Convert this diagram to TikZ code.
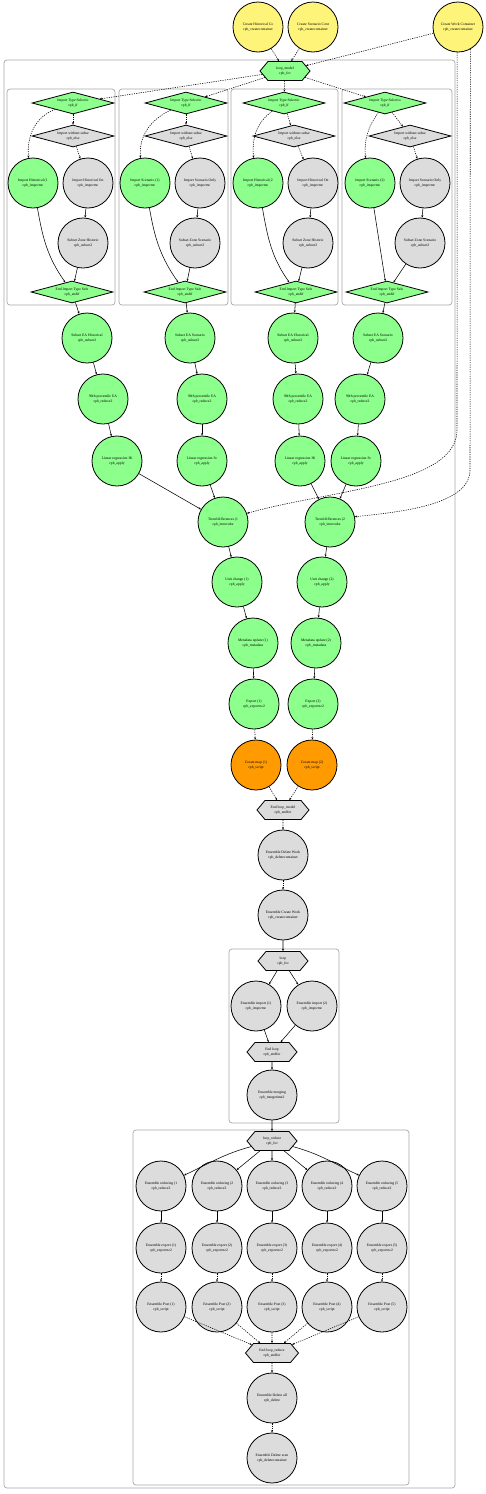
\documentclass[tikz,border=0pt]{standalone}
\usepackage{fontspec}
\setmainfont{Liberation Serif}
\usetikzlibrary{shapes.geometric,shapes.symbols,arrows.meta}
\definecolor{cgreen}{HTML}{8CFF8C}
\definecolor{cyellow}{HTML}{FFF47A}
\definecolor{corange}{HTML}{FF9A00}
\definecolor{cgray}{HTML}{DCDCDC}
\definecolor{cbox}{HTML}{A8A8A8}
\newcommand\gvfont{\fontsize{3.7}{4.5}\selectfont}
\begin{document}
\begin{tikzpicture}[x=1pt,y=1pt,
 gvbase/.style={draw=black,line width=0.8pt,font=\gvfont,align=center,inner sep=0pt,text=black},
 crc/.style={gvbase,circle,minimum size=50pt},
 fgreen/.style={fill=cgreen}, fyellow/.style={fill=cyellow}, forange/.style={fill=corange}, fgray/.style={fill=cgray},
 dia/.style={gvbase,diamond,aspect=3.7,minimum width=82pt,minimum height=22pt},
 hexa/.style={gvbase,signal,signal to=east and west,signal pointer angle=100,minimum width=50pt,minimum height=19pt},
 clus/.style={draw=cbox,line width=0.7pt,rounded corners=3pt},
 sol/.style={line width=0.55pt,-{Stealth[length=2.4pt,width=2pt]}},
 dsh/.style={sol,dash pattern=on 1.2pt off 1.1pt}]
\fill[white] (0,0) rectangle (485,-1494);
\useasboundingbox (0,0) rectangle (485,-1494);
% clusters
\draw[clus] (4,-60) rectangle (455,-1488);
\draw[clus] (7,-89) rectangle (115,-305);
\draw[clus] (119,-89) rectangle (228,-305);
\draw[clus] (231,-89) rectangle (338,-305);
\draw[clus] (342,-89) rectangle (452,-305);
\draw[clus] (229,-949) rectangle (339,-1123);
\draw[clus] (133,-1130) rectangle (409,-1485);
% top
\node[crc,fyellow] (ch) at (258,-27) {Create Historical Co\\cpb\_createcontainer};
\node[crc,fyellow] (cs) at (313,-27) {Create Scenario Cont\\cpb\_createcontainer};
\node[crc,fyellow] (cw) at (458,-27) {Create Work Container\\cpb\_createcontainer};
\node[hexa,fgreen] (lm) at (285,-71) {loop\_model\\cpb\_for};
% cluster 1
\node[dia,fgreen] (d1) at (73,-103) {Import Type Selectio\\cpb\_if};
\node[dia,fgray] (e1) at (73,-136) {Import without subse\\cpb\_else};
\node[crc,fgreen] (a1) at (33,-183) {Import Historical (1\\cpb\_importnc};
\node[crc,fgray] (b1) at (88,-183) {Import Historical On\\cpb\_importnc};
\node[crc,fgray] (z1) at (83,-243) {Subset Zone Historic\\cpb\_subset2};
\node[dia,fgreen] (f1) at (72,-292) {End Import Type Sele\\cpb\_endif};
% cluster 2
\node[dia,fgreen] (d2) at (186,-103) {Import Type Selectio\\cpb\_if};
\node[dia,fgray] (e2) at (186,-136) {Import without subse\\cpb\_else};
\node[crc,fgreen] (a2) at (145,-183) {Import Scenario (1)\\cpb\_importnc};
\node[crc,fgray] (b2) at (200,-183) {Import Scenario Only\\cpb\_importnc};
\node[crc,fgray] (z2) at (195,-243) {Subset Zone Scenario\\cpb\_subset2};
\node[dia,fgreen] (f2) at (185,-292) {End Import Type Sele\\cpb\_endif};
% cluster 3
\node[dia,fgreen] (d3) at (284,-103) {Import Type Selectio\\cpb\_if};
\node[dia,fgray] (e3) at (294,-136) {Import without subse\\cpb\_else};
\node[crc,fgreen] (a3) at (258,-183) {Import Historical (2\\cpb\_importnc};
\node[crc,fgray] (b3) at (313,-183) {Import Historical On\\cpb\_importnc};
\node[crc,fgray] (z3) at (308,-243) {Subset Zone Historic\\cpb\_subset2};
\node[dia,fgreen] (f3) at (296,-292) {End Import Type Sele\\cpb\_endif};
% cluster 4
\node[dia,fgreen] (d4) at (385,-103) {Import Type Selectio\\cpb\_if};
\node[dia,fgray] (e4) at (410,-136) {Import without subse\\cpb\_else};
\node[crc,fgreen] (a4) at (370,-183) {Import Scenario (2)\\cpb\_importnc};
\node[crc,fgray] (b4) at (425,-183) {Import Scenario Only\\cpb\_importnc};
\node[crc,fgray] (z4) at (420,-243) {Subset Zone Scenario\\cpb\_subset2};
\node[dia,fgreen] (f4) at (387,-292) {End Import Type Sele\\cpb\_endif};
% chains
\node[crc,fgreen] (s1) at (87,-338) {Subset EA Historical\\cpb\_subset2};
\node[crc,fgreen] (s2) at (190,-338) {Subset EA Scenario\\cpb\_subset2};
\node[crc,fgreen] (s3) at (293,-338) {Subset EA Historical\\cpb\_subset2};
\node[crc,fgreen] (s4) at (378,-338) {Subset EA Scenario\\cpb\_subset2};
\node[crc,fgreen] (p1) at (103,-399) {90th percentile EA\\cpb\_reduce2};
\node[crc,fgreen] (p2) at (202,-399) {90th percentile EA\\cpb\_reduce2};
\node[crc,fgreen] (p3) at (298,-399) {90th percentile EA\\cpb\_reduce2};
\node[crc,fgreen] (p4) at (360,-399) {90th percentile EA\\cpb\_reduce2};
\node[crc,fgreen] (l1) at (117,-461) {Linear regression Hi\\cpb\_apply};
\node[crc,fgreen] (l2) at (202,-461) {Linear regression Sc\\cpb\_apply};
\node[crc,fgreen] (l3) at (300,-461) {Linear regression Hi\\cpb\_apply};
\node[crc,fgreen] (l4) at (356,-461) {Linear regression Sc\\cpb\_apply};
\node[crc,fgreen] (t1) at (223,-522) {Trend differences (1\\cpb\_intercube};
\node[crc,fgreen] (t2) at (330,-522) {Trend differences (2\\cpb\_intercube};
\node[crc,fgreen] (u1) at (237,-582) {Unit change (1)\\cpb\_apply};
\node[crc,fgreen] (u2) at (322,-582) {Unit change (2)\\cpb\_apply};
\node[crc,fgreen] (m1) at (253,-643) {Metadata update (1)\\cpb\_metadata};
\node[crc,fgreen] (m2) at (316,-643) {Metadata update (2)\\cpb\_metadata};
\node[crc,fgreen] (x1) at (254,-704) {Export (1)\\cpb\_exportnc2};
\node[crc,fgreen] (x2) at (313,-704) {Export (2)\\cpb\_exportnc2};
\node[crc,forange] (c1) at (256,-765) {Create map (1)\\cpb\_script};
\node[crc,forange] (c2) at (312,-765) {Create map (2)\\cpb\_script};
\node[hexa,fgray,minimum width=52pt] (elm) at (283,-810) {End loop\_model\\cpb\_endfor};
\node[crc,fgray] (edw) at (283,-855) {Ensemble Delete Work\\cpb\_deletecontainer};
\node[crc,fgray] (ecw) at (283,-915) {Ensemble Create Work\\cpb\_createcontainer};
\node[hexa,fgray] (lp) at (283,-961) {loop\\cpb\_for};
\node[crc,fgray] (ei1) at (256,-1006) {Ensemble import (1)\\cpb\_importnc};
\node[crc,fgray] (ei2) at (312,-1006) {Ensemble import (2)\\cpb\_importnc};
\node[hexa,fgray] (el) at (272,-1052) {End loop\\cpb\_endfor};
\node[crc,fgray] (em) at (272,-1095) {Ensemble merging\\cpb\_mergetime2};
\node[hexa,fgray] (lr) at (272,-1141) {loop\_reduce\\cpb\_for};
\foreach \k/\xx in {1/161,2/217,3/272,4/327,5/382}{
 \node[crc,fgray] (r\k) at (\xx,-1186) {Ensemble reducing (\k\\cpb\_reduce2};
 \node[crc,fgray] (o\k) at (\xx,-1248) {Ensemble export (\k)\\cpb\_exportnc2};
 \node[crc,fgray] (q\k) at (\xx,-1307) {Ensemble Post (\k)\\cpb\_script};
}
\node[hexa,fgray,minimum width=53pt] (elr) at (272,-1353) {End loop\_reduce\\cpb\_endfor};
\node[crc,fgray] (eda) at (272,-1398) {Ensemble Delete all\\cpb\_delete};
\node[crc,fgray] (eds) at (272,-1458) {Ensemble Delete scen\\cpb\_deletecontainer};
% edges top
\draw[dsh] (ch) -- (lm);
\draw[dsh] (cs) -- (lm);
\draw[dsh] (cw) -- (lm);
\foreach \i in {1,...,4}{
 \draw[dsh] (lm) -- (d\i);
 \draw[dsh] (d\i) -- (e\i);
 \draw[dsh] (e\i) -- (b\i);
 \draw[sol] (b\i) -- (z\i);
 \draw[sol] (z\i) -- (f\i);
 \draw[sol] (f\i) -- (s\i);
 \draw[sol] (s\i) -- (p\i);
 \draw[sol] (p\i) -- (l\i);
}
\draw[dsh] (d1.200) to[out=200,in=95] (a1.100);
\draw[dsh] (d2.205) to[out=205,in=95] (a2.100);
\draw[dsh] (d3.215) to[out=215,in=95] (a3.100);
\draw[dsh] (d4.235) to[out=235,in=95] (a4.100);
\draw[sol] (a1) to[out=-80,in=125] (f1);
\draw[sol] (a2) to[out=-80,in=125] (f2);
\draw[sol] (a3) to[out=-80,in=125] (f3);
\draw[sol] (a4) -- (f4);
\draw[sol] (l1) -- (t1);
\draw[sol] (l2) -- (t1);
\draw[sol] (l3) -- (t2);
\draw[sol] (l4) -- (t2);
% long work container links
\coordinate (wa) at (457,-430);
\coordinate (wb) at (470,-470);
\draw[dsh] (cw.268) -- (wa) .. controls (457,-485) and (330,-490) .. (t1.20);
\draw[dsh] (cw.299) -- (wb) .. controls (470,-505) and (400,-512) .. (t2.12);
% middle chain
\foreach \i in {1,2}{
 \draw[sol] (t\i) -- (u\i);
 \draw[sol] (u\i) -- (m\i);
 \draw[sol] (m\i) -- (x\i);
 \draw[dsh] (x\i) -- (c\i);
 \draw[dsh] (c\i) -- (elm);
}
\draw[dsh] (elm) -- (edw);
\draw[dsh] (edw) -- (ecw);
\draw[sol] (ecw) -- (lp);
\draw[sol] (lp) -- (ei1);
\draw[sol] (lp) -- (ei2);
\draw[sol] (ei1) -- (el);
\draw[sol] (ei2) -- (el);
\draw[sol] (el) -- (em);
\draw[sol] (em) -- (lr);
\draw[sol] (lr) to[out=195,in=25] (r1);
\draw[sol] (lr) -- (r2);
\draw[sol] (lr) -- (r3);
\draw[sol] (lr) -- (r4);
\draw[sol] (lr) to[out=-15,in=155] (r5);
\foreach \k in {1,...,5}{
 \draw[sol] (r\k) -- (o\k);
 \draw[dsh] (o\k) -- (q\k);
 \draw[dsh] (q\k) -- (elr);
}
\draw[dsh] (elr) -- (eda);
\draw[dsh] (eda) -- (eds);
\end{tikzpicture}
\end{document}
